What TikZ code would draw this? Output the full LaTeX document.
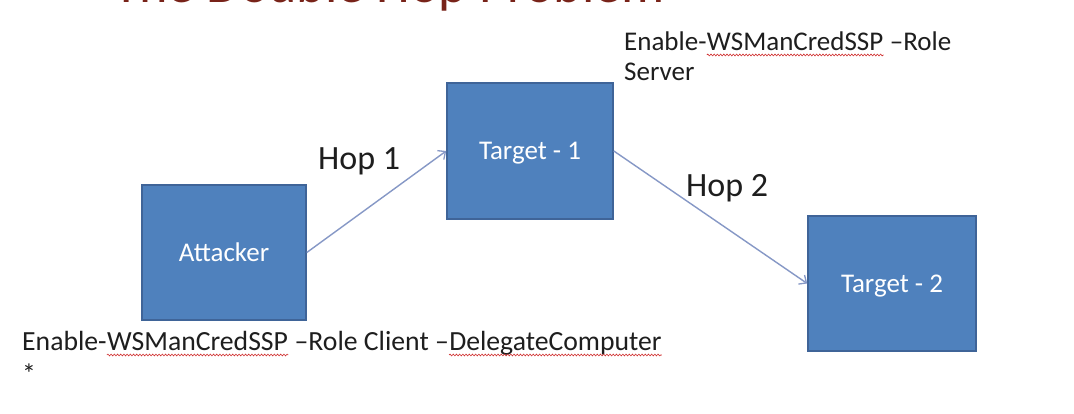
\documentclass[tikz,border=0pt]{standalone}
\usepackage{fontspec}
\setmainfont{Carlito}
\usetikzlibrary{arrows.meta,decorations.pathmorphing}
\definecolor{boxfill}{HTML}{4F81BD}
\definecolor{boxline}{HTML}{3F6498}
\definecolor{arrowcol}{HTML}{8698C6}
\definecolor{titlecol}{RGB}{120,35,25}
\definecolor{txtcol}{HTML}{1E1E1E}
\definecolor{spellred}{HTML}{D03030}
\tikzset{
  hostbox/.style={draw=boxline, line width=1.6pt, fill=boxfill, text=white,
    font=\fontsize{27}{30}\selectfont, inner sep=0pt, text height=17.4pt, text depth=0pt},
  hoparrow/.style={draw=arrowcol, line width=1.4pt,
    -{Straight Barb[length=6pt,width=11pt,line width=1.3pt]}},
  hoplabel/.style={text=txtcol, font=\fontsize{34}{40}\selectfont, anchor=base west, inner sep=0pt},
  cmdtext/.style={text=txtcol, font=\fontsize{27}{30}\selectfont, anchor=base west, inner sep=0pt},
  cmdtextb/.style={text=txtcol, font=\fontsize{27.7}{30}\selectfont, anchor=base west, inner sep=0pt},
  squiggle/.style={draw=spellred, line width=0.6pt,
    decorate, decoration={snake, segment length=3.2pt, amplitude=0.9pt}}
}
\begin{document}
\begin{tikzpicture}[x=1pt,y=1pt]
\useasboundingbox (0,0) rectangle (1074,414);
\fill[white] (0,0) rectangle (1074,414);
\begin{scope}
\clip (0,0) rectangle (1074,414);
\node[anchor=base west, inner sep=0pt, text=titlecol, font=\fontsize{54}{60}\selectfont] (title) at (113,411.8) {The Double Hop Problem};
\end{scope}

% boxes
\node[hostbox, minimum width=164pt, minimum height=135pt] (att) at (224,161.5) {Attacker};
\node[hostbox, minimum width=166pt, minimum height=136pt] (t1) at (530,263) {Target - 1};
\node[hostbox, minimum width=168pt, minimum height=135pt] (t2) at (892,130.5) {Target - 2};

% arrows
\draw[hoparrow] (att.east) -- (t1.west);
\draw[hoparrow] (t1.east) -- (t2.west);

\node[hoplabel] (hop1) at (318,244) {Hop 1};
\node[hoplabel] (hop2) at (686,217) {Hop 2};

% top-right command
\node[cmdtext] (s1) at (624,363) {Enable-};
\node[cmdtext] (s2) at (s1.base east) {WSManCredSSP};
\node[cmdtext] (s3) at (s2.base east) {\ –Role};
\node[cmdtext] (s4) at (624,333) {Server};
\draw[squiggle] ([yshift=-4pt]s2.base west) -- ([yshift=-4pt]s2.base east);

% bottom command
\node[cmdtextb] (c1) at (22,63) {Enable-};
\node[cmdtextb] (c2) at (c1.base east) {WSManCredSSP};
\node[cmdtextb] (c3) at (c2.base east) {\ –Role Client –};
\node[cmdtextb] (c4) at (c3.base east) {DelegateComputer};
\node[cmdtextb] (c5) at (22,30) {*};
\draw[squiggle] ([yshift=-4pt]c2.base west) -- ([yshift=-4pt]c2.base east);
\draw[squiggle] ([yshift=-4pt]c4.base west) -- ([yshift=-4pt]c4.base east);
\end{tikzpicture}
\end{document}
